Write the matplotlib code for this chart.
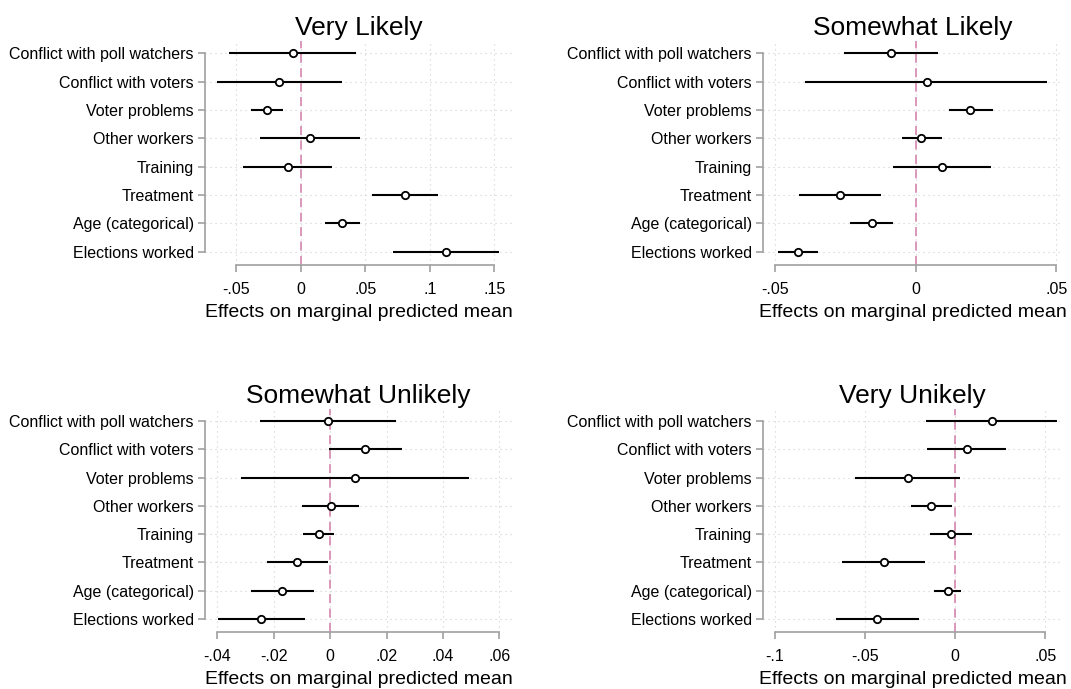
import matplotlib
matplotlib.use("Agg")
import matplotlib.pyplot as plt
import numpy as np

plt.rcParams['font.family'] = ['Liberation Sans', 'DejaVu Sans']

labels = ["Conflict with poll watchers", "Conflict with voters", "Voter problems",
          "Other workers", "Training", "Treatment", "Age (categorical)", "Elections worked"]

titles = ["Very Likely", "Somewhat Likely", "Somewhat Unlikely", "Very Unikely"]

vl_est = [-0.0060, -0.0166, -0.0261, 0.0075, -0.0101, 0.0811, 0.0320, 0.1124]
vl_lo = [-0.0553, -0.0646, -0.0385, -0.0313, -0.0445, 0.0555, 0.0186, 0.0716]
vl_hi = [0.0431, 0.0317, -0.0135, 0.0460, 0.0240, 0.1067, 0.0457, 0.1535]

sl_est = [-0.0089, 0.0038, 0.0194, 0.0020, 0.0094, -0.0270, -0.0157, -0.0421]
sl_lo = [-0.0254, -0.0393, 0.0117, -0.0050, -0.0083, -0.0416, -0.0235, -0.0492]
sl_hi = [0.0077, 0.0466, 0.0274, 0.0093, 0.0269, -0.0123, -0.0080, -0.0348]

su_est = [-0.0008, 0.0125, 0.0088, 0.0002, -0.0041, -0.0117, -0.0170, -0.0245]
su_lo = [-0.0248, -0.0005, -0.0317, -0.0100, -0.0096, -0.0225, -0.0282, -0.0399]
su_hi = [0.0233, 0.0256, 0.0493, 0.0104, 0.0015, -0.0008, -0.0059, -0.0089]

vu_est = [0.0201, 0.0063, -0.0265, -0.0135, -0.0024, -0.0398, -0.0043, -0.0434]
vu_lo = [-0.0161, -0.0157, -0.0555, -0.0246, -0.0139, -0.0628, -0.0120, -0.0664]
vu_hi = [0.0562, 0.0283, 0.0024, -0.0020, 0.0093, -0.0168, 0.0033, -0.0201]

xticks = [[-0.05, 0, 0.05, 0.1, 0.15], [-0.05, 0, 0.05],
          [-0.04, -0.02, 0, 0.02, 0.04, 0.06], [-0.1, -0.05, 0, 0.05]]
xticklabels = [["-.05", "0", ".05", ".1", ".15"], ["-.05", "0", ".05"],
               ["-.04", "-.02", "0", ".02", ".04", ".06"], ["-.1", "-.05", "0", ".05"]]
xlims = [(-0.0742, 0.1638), (-0.0544, 0.0520), (-0.0444, 0.0645), (-0.1067, 0.0592)]

data = [(vl_est, vl_lo, vl_hi), (sl_est, sl_lo, sl_hi),
        (su_est, su_lo, su_hi), (vu_est, vu_lo, vu_hi)]

W, H = 1071, 689
fig = plt.figure(figsize=(W / 100, H / 100), dpi=100)

# pixel boxes: left, right, top, bottom
boxes = [(205, 512, 41, 265), (763, 1062, 41, 265),
         (205, 512, 409, 632), (763, 1062, 409, 632)]

gray = '#a0a0a0'
for i, (l, r, t, b) in enumerate(boxes):
    ax = fig.add_axes([l / W, 1 - b / H, (r - l) / W, (b - t) / H])
    est, lo, hi = data[i]
    y = np.arange(1, len(labels) + 1)
    for xv in xticks[i]:
        ax.axvline(xv, color='#cfcfcf', lw=0.8, ls=(0, (1, 3.5)), zorder=0)
    for yv in y:
        ax.axhline(yv, color='#cfcfcf', lw=0.8, ls=(0, (1, 3.5)), zorder=0)
    ax.axvline(0, color='#d88fb4', lw=1.3, ls=(0, (5, 3)), zorder=1)
    ax.hlines(y, lo, hi, color='black', lw=1.5, zorder=2)
    ax.plot(est, y, 'o', mfc='white', mec='black', mew=1.3, ms=5.3, zorder=3)
    ax.set_ylim(8.47, 0.57)
    ax.set_xlim(*xlims[i])
    ax.set_yticks(y)
    ax.set_yticklabels(labels, fontsize=11.5)
    ax.set_xticks(xticks[i])
    ax.set_xticklabels(xticklabels[i], fontsize=11.5)
    for s in ['top', 'right']:
        ax.spines[s].set_visible(False)
    for s in ['left', 'bottom']:
        ax.spines[s].set_color(gray)
        ax.spines[s].set_linewidth(1.2)
    ax.spines['left'].set_bounds(1, 8)
    ax.spines['bottom'].set_bounds(xticks[i][0], xticks[i][-1])
    ax.tick_params(axis='both', color=gray, length=5, width=1.2)
    ax.tick_params(axis='x', pad=7)
    ax.tick_params(axis='y', pad=3)
    ax.set_xlabel("Effects on marginal predicted mean", fontsize=14, labelpad=5)
    ax.set_title(titles[i], fontsize=19, pad=4)

fig.savefig("out.png", dpi=100)
